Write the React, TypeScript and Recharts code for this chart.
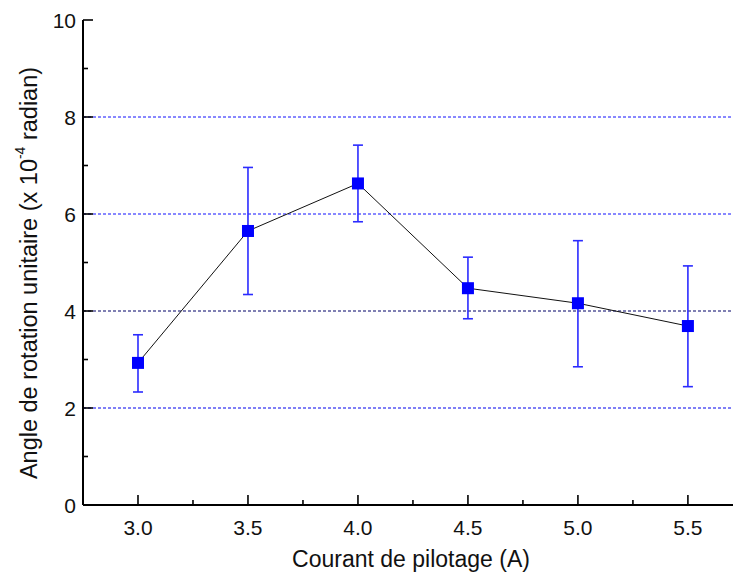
import React from "react";
import {
  ComposedChart,
  Line,
  XAxis,
  YAxis,
  ErrorBar,
  ReferenceLine,
} from "recharts";

// current (A), rotation angle (x 1e-4 rad), error bar bounds
const currents = [3.0, 3.5, 4.0, 4.5, 5.0, 5.5];
const angles = [2.93, 5.65, 6.63, 4.47, 4.16, 3.69];
const errLow = [2.33, 4.34, 5.84, 3.84, 2.85, 2.44];
const errHigh = [3.51, 6.96, 7.42, 5.11, 5.45, 4.93];

const xTicks = [3.0, 3.25, 3.5, 3.75, 4.0, 4.25, 4.5, 4.75, 5.0, 5.25, 5.5];
const yTicks = [0, 1, 2, 3, 4, 5, 6, 7, 8, 9, 10];
const gridLines = [
  { y: 2, color: "#0000ee" },
  { y: 4, color: "#000066" },
  { y: 6, color: "#1010ff" },
  { y: 8, color: "#1010ff" },
];

const data = currents.map((c, i) => ({
  c,
  v: angles[i],
  err: [angles[i] - errLow[i], errHigh[i] - angles[i]],
}));

const FONT = "'Liberation Sans', Arial, sans-serif";
const isMajorX = (v: number) => Math.abs(v * 2 - Math.round(v * 2)) < 1e-6;

function LeftTick({ x, y, payload }: any) {
  const ax = x + 8;
  const major = payload.value % 2 === 0;
  return (
    <g>
      <line x1={ax} x2={ax + (major ? 10 : 5)} y1={y} y2={y} stroke="#000" strokeWidth={1.6} />
      {major && (
        <text x={x + 1} y={y} textAnchor="end" dominantBaseline="central" fontSize={21} fontFamily={FONT} fill="#111">
          {payload.value}
        </text>
      )}
    </g>
  );
}

function BottomTick({ x, y, payload }: any) {
  const ay = y - 8;
  const major = isMajorX(payload.value);
  return (
    <g>
      <line x1={x} x2={x} y1={ay} y2={ay - (major ? 10 : 5)} stroke="#000" strokeWidth={1.6} />
      {major && (
        <text x={x} y={ay + 22} textAnchor="middle" dominantBaseline="central" fontSize={21} fontFamily={FONT} fill="#111">
          {payload.value.toFixed(1)}
        </text>
      )}
    </g>
  );
}

function TopTick({ x, y, payload }: any) {
  const major = isMajorX(payload.value);
  return <line x1={x} x2={x} y1={y} y2={y + (major ? 10 : 5)} stroke="#000" strokeWidth={1.6} />;
}

function SquareDot({ cx, cy }: any) {
  return <rect x={cx - 6} y={cy - 6} width={12} height={12} fill="#0000ff" />;
}

function YTitle() {
  return (
    <text
      transform="translate(29,273) rotate(-90)"
      textAnchor="middle"
      dominantBaseline="central"
      fontSize={23.5}
      fontFamily={FONT}
      fill="#111"
    >
      Angle de rotation unitaire (x 10
      <tspan dy={-9} fontSize={14}>-4</tspan>
      <tspan dy={9}> radian)</tspan>
    </text>
  );
}

function XTitle() {
  return (
    <text x={411} y={559} textAnchor="middle" dominantBaseline="central" fontSize={23} fontFamily={FONT} fill="#111">
      Courant de pilotage (A)
    </text>
  );
}

export default function App() {
  return (
    <div style={{ position: "absolute", left: 0, top: 0, background: "#fff" }}>
      <ComposedChart width={733} height={573} data={data} margin={{ top: 20, right: 0, bottom: 8, left: 23 }}>
        <XAxis
          dataKey="c"
          type="number"
          domain={[2.75, 5.705]}
          allowDataOverflow
          ticks={xTicks}
          interval={0}
          height={60}
          tickSize={0}
          tickMargin={8}
          tickLine={false}
          tick={<BottomTick />}
          axisLine={{ stroke: "#000", strokeWidth: 2 }}
          label={{ content: () => <XTitle /> }}
        />
        <XAxis
          xAxisId="top"
          dataKey="c"
          type="number"
          orientation="top"
          domain={[2.75, 5.705]}
          allowDataOverflow
          ticks={xTicks}
          interval={0}
          height={0}
          tickSize={0}
          tickMargin={0}
          tickLine={false}
          tick={<TopTick />}
          axisLine={{ stroke: "#000", strokeWidth: 2 }}
        />
        <YAxis
          type="number"
          domain={[0, 10]}
          ticks={yTicks}
          interval={0}
          width={60}
          tickSize={0}
          tickMargin={8}
          tickLine={false}
          tick={<LeftTick />}
          axisLine={{ stroke: "#000", strokeWidth: 2 }}
          label={{ content: () => <YTitle /> }}
        />
        {gridLines.map((g) => (
          <ReferenceLine
            key={g.y}
            y={g.y}
            stroke={g.color}
            strokeDasharray="3 2"
            strokeWidth={1}
            segment={[{ x: 2.805, y: g.y }, { x: 5.705, y: g.y }]}
          />
        ))}
        <Line
          dataKey="v"
          type="linear"
          stroke="#111"
          strokeWidth={1}
          dot={<SquareDot />}
          activeDot={false}
          isAnimationActive={false}
        >
          <ErrorBar dataKey="err" direction="y" width={5} stroke="#2b2bff" strokeWidth={1.6} />
        </Line>
      </ComposedChart>
    </div>
  );
}
